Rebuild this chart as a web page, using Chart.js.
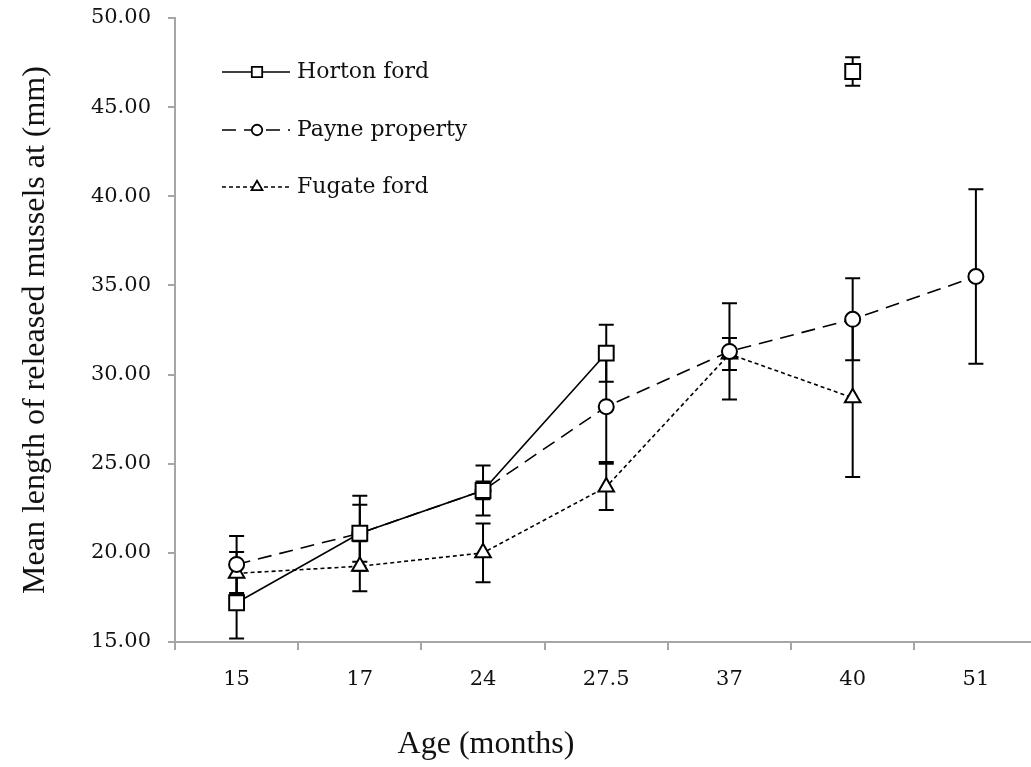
<!DOCTYPE html>
<html>
<head>
<meta charset="utf-8">
<script src="https://cdn.jsdelivr.net/npm/chart.js@4/dist/chart.umd.min.js"></script>
<style>
  html, body { margin: 0; padding: 0; background: #fff; overflow: hidden; }
  #wrap { position: relative; width: 1050px; height: 767px; }
</style>
</head>
<body>
<div id="wrap"><canvas id="chart"></canvas></div>
<script>
// comprimento médio por idade, três locais de soltura
const ages = ['15', '17', '24', '27.5', '37', '40', '51'];

const hortonMean = [17.2, 21.1, 23.5, 31.2, null, 47.0, null];
const hortonErr = [2.0, 2.1, 1.4, 1.6, null, 0.8, null];

const payneMean = [19.35, 21.1, 23.5, 28.2, 31.3, 33.1, 35.5];
const payneErr = [1.6, 1.6, 0.5, 3.1, 2.7, 2.3, 4.9];

const fugateMean = [18.85, 19.25, 20.0, 23.7, 31.15, 28.7, null];
const fugateErr = [1.2, 1.4, 1.65, 1.3, 0.9, 4.45, null];

const seriesNames = ['Horton ford', 'Payne property', 'Fugate ford'];
const yMin = 15, yMax = 50, yStep = 5;

const AXIS_GRAY = '#a6a6a6';
const SERIF_NUM = '"DejaVu Serif", serif';
const SERIF_TITLE = '"Liberation Serif", "Times New Roman", serif';

// barras de erro, desenhadas antes dos marcadores
const errorBars = {
  id: 'errorBars',
  beforeDatasetsDraw(chart) {
    const ctx = chart.ctx;
    const y = chart.scales.y;
    ctx.save();
    ctx.strokeStyle = '#000';
    ctx.lineWidth = 2;
    ctx.setLineDash([]);
    chart.data.datasets.forEach((ds, i) => {
      const meta = chart.getDatasetMeta(i);
      meta.data.forEach((pt, j) => {
        const v = ds.data[j];
        const e = ds.errors[j];
        if (v == null || e == null) return;
        const x = pt.x;
        const top = y.getPixelForValue(v + e);
        const bot = y.getPixelForValue(v - e);
        ctx.beginPath();
        ctx.moveTo(x, top); ctx.lineTo(x, bot);
        ctx.moveTo(x - 7.5, top); ctx.lineTo(x + 7.5, top);
        ctx.moveTo(x - 7.5, bot); ctx.lineTo(x + 7.5, bot);
        ctx.stroke();
      });
    });
    ctx.restore();
  }
};

// legenda dentro da área do gráfico + título do eixo x
const customLegend = {
  id: 'customLegend',
  afterDraw(chart) {
    const ctx = chart.ctx;
    const rows = [72, 130, 187];
    ctx.save();
    chart.data.datasets.forEach((ds, i) => {
      const yy = rows[i];
      const lineOpts = chart.getDatasetMeta(i).dataset.options;
      ctx.strokeStyle = '#000';
      ctx.lineWidth = 1.6;
      ctx.setLineDash(lineOpts.borderDash || []);
      ctx.beginPath();
      ctx.moveTo(222, yy); ctx.lineTo(290, yy);
      ctx.stroke();
      ctx.setLineDash([]);
      ctx.lineWidth = 1.8;
      ctx.fillStyle = '#fff';
      ctx.strokeStyle = '#000';
      Chart.helpers.drawPoint(ctx, {
        pointStyle: ds.pointStyle, rotation: 0, borderWidth: 1.8,
        radius: ds.pointRadius * 0.7,
      }, 257, yy);
      ctx.fillStyle = '#111';
      ctx.font = '22px ' + SERIF_NUM;
      ctx.textBaseline = 'middle';
      ctx.textAlign = 'left';
      ctx.fillText(ds.label, 297, yy);
    });

    const xs = chart.scales.x;
    ctx.fillStyle = '#111';
    ctx.font = '32px ' + SERIF_TITLE;
    ctx.textAlign = 'center';
    ctx.textBaseline = 'middle';
    ctx.fillText('Age (months)', xs.getPixelForValue(2) + 3, chart.height - 22);
    ctx.restore();
  }
};

const common = {
  borderColor: '#000',
  pointBorderColor: '#000',
  pointBackgroundColor: '#fff',
  pointBorderWidth: 2,
  pointHoverRadius: 0,
  borderWidth: 1.6,
  tension: 0,
  spanGaps: false,
  fill: false,
};

new Chart(document.getElementById('chart'), {
  type: 'line',
  data: {
    labels: ages,
    datasets: [
      { ...common, label: seriesNames[0], data: hortonMean, errors: hortonErr,
        pointStyle: 'rect', pointRadius: 10.5, borderDash: [] },
      { ...common, label: seriesNames[1], data: payneMean, errors: payneErr,
        pointStyle: 'circle', pointRadius: 7.5, borderDash: [14, 8] },
      { ...common, label: seriesNames[2], data: fugateMean, errors: fugateErr,
        pointStyle: 'triangle', pointRadius: 9, borderDash: [4, 3] },
    ],
  },
  options: {
    responsive: true,
    maintainAspectRatio: false,
    animation: false,
    layout: { padding: { top: 18, right: 8, left: 0, bottom: 0 } },
    plugins: {
      legend: { display: false },
      tooltip: { enabled: false },
    },
    scales: {
      x: {
        type: 'category',
        offset: true,
        grid: { offset: true, drawOnChartArea: false, color: AXIS_GRAY, tickLength: 8, lineWidth: 2 },
        border: { color: AXIS_GRAY, width: 2 },
        ticks: { color: '#111', font: { family: SERIF_NUM, size: 21 }, padding: 17, maxRotation: 0 },
        afterFit(s) { s.height = 125; s.paddingLeft = 0; s.paddingRight = 0; },
      },
      y: {
        min: yMin,
        max: yMax,
        ticks: {
          stepSize: yStep,
          color: '#111',
          font: { family: SERIF_NUM, size: 21 },
          padding: 17,
          callback: (v) => Number(v).toFixed(2),
        },
        grid: { drawOnChartArea: false, color: AXIS_GRAY, tickLength: 7, lineWidth: 2 },
        border: { color: AXIS_GRAY, width: 2 },
        title: {
          display: true,
          text: 'Mean length of released mussels at (mm)',
          color: '#111',
          font: { family: SERIF_TITLE, size: 32 },
          padding: { top: 16, bottom: 0 },
        },
        afterFit(s) { s.width = 175; s.paddingTop = 0; s.paddingBottom = 0; },
      },
    },
  },
  plugins: [errorBars, customLegend],
});
</script>
</body>
</html>
